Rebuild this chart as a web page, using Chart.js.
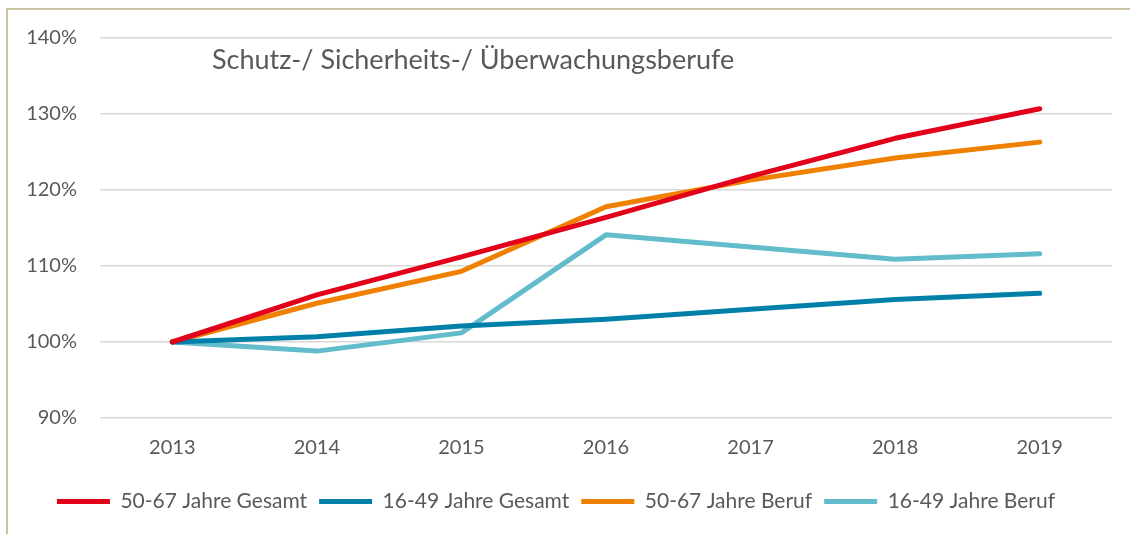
<!DOCTYPE html>
<html>
<head>
<meta charset="utf-8">
<script src="https://cdn.jsdelivr.net/npm/chart.js@4"></script>
<style>
  html, body { margin: 0; padding: 0; background: #fff; }
  #wrap { position: relative; width: 1130px; height: 534px; overflow: hidden; }
  #frame { position: absolute; left: 6px; top: 8px; width: 1200px; height: 600px;
           border-left: 2px solid #c9c19f; border-top: 2px solid #c9c19f; }
  #myChart { position: absolute; left: 0; top: 0; }
</style>
</head>
<body>
<div id="wrap">
  <div id="frame"></div>
  <canvas id="myChart" width="1130" height="534"></canvas>
</div>
<script>
// Werte in Prozent (2013 = 100%)
const years = ['2013', '2014', '2015', '2016', '2017', '2018', '2019'];
const gesamt5067 = [100, 106.2, 111.2, 116.4, 121.8, 126.8, 130.7];
const gesamt1649 = [100, 100.7, 102.1, 103.0, 104.3, 105.6, 106.4];
const beruf5067 = [100, 105.1, 109.3, 117.8, 121.3, 124.2, 126.3];
const beruf1649 = [100, 98.8, 101.2, 114.1, 112.5, 110.9, 111.6];
const yTicks = [90, 100, 110, 120, 130, 140];

const chartTitle = 'Schutz-/ Sicherheits-/ Überwachungsberufe';
const textColor = '#595959';
const fontFamily = 'Lato, "Open Sans", sans-serif';

// Titel steht innerhalb der Zeichenfläche
const innerTitle = {
    id: 'innerTitle',
    afterDraw(chart) {
        const ctx = chart.ctx;
        const area = chart.chartArea;
        ctx.save();
        ctx.font = '27px ' + fontFamily;
        ctx.fillStyle = textColor;
        ctx.textBaseline = 'middle';
        ctx.textAlign = 'left';
        ctx.fillText(chartTitle, area.left + 112, area.top + 22);
        ctx.restore();
    }
};

function line(label, color, data) {
    return {
        label: label,
        data: data,
        borderColor: color,
        backgroundColor: color,
        borderWidth: 5,
        borderCapStyle: 'round',
        borderJoinStyle: 'round',
        pointRadius: 0,
        pointHoverRadius: 0,
        tension: 0,
        fill: false
    };
}

new Chart(document.getElementById('myChart'), {
    type: 'line',
    data: {
        labels: years,
        datasets: [
            line('50-67 Jahre Gesamt', '#e2001a', gesamt5067),
            line('16-49 Jahre Gesamt', '#0080a9', gesamt1649),
            line('50-67 Jahre Beruf', '#f08000', beruf5067),
            line('16-49 Jahre Beruf', '#62bccb', beruf1649)
        ]
    },
    options: {
        responsive: false,
        animation: false,
        layout: {
            padding: { left: 0, right: 18, top: 38, bottom: 12 }
        },
        scales: {
            x: {
                offset: true,
                grid: { display: false, drawTicks: false },
                border: { display: false },
                ticks: { color: textColor, font: { family: fontFamily, size: 20 }, padding: 18 },
                afterFit(scale) { scale.height = 61; }
            },
            y: {
                min: 90,
                max: 140,
                afterBuildTicks(scale) { scale.ticks = yTicks.map(v => ({ value: v })); },
                grid: { color: '#d9d9d9', lineWidth: 1.5, drawTicks: false },
                border: { display: false },
                ticks: {
                    color: textColor,
                    font: { family: fontFamily, size: 20 },
                    padding: 23,
                    callback: v => v + '%'
                },
                afterFit(scale) { scale.width = 100; }
            }
        },
        plugins: {
            title: { display: false },
            tooltip: { enabled: false },
            legend: {
                display: true,
                position: 'bottom',
                labels: {
                    usePointStyle: true,
                    pointStyle: 'line',
                    pointStyleWidth: 53,
                    boxHeight: 21,
                    padding: 12,
                    color: textColor,
                    font: { family: fontFamily, size: 21 }
                }
            }
        }
    },
    plugins: [innerTitle]
});
</script>
</body>
</html>
